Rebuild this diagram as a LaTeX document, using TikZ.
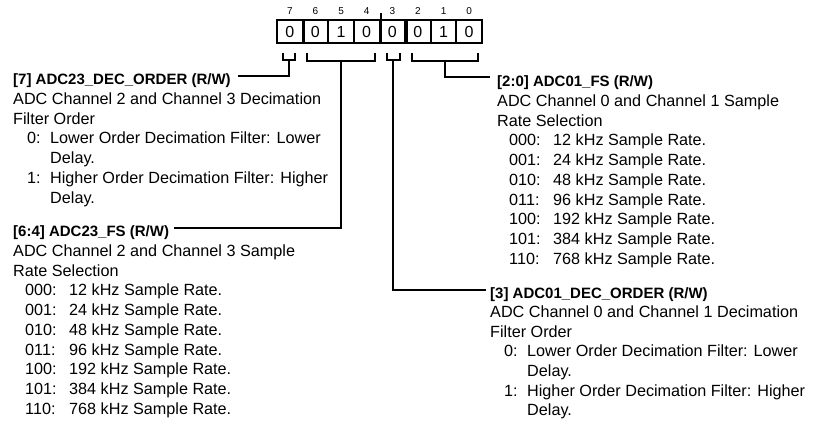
\documentclass[tikz,border=0pt]{standalone}
\usepackage{fontspec}
\setmainfont{Liberation Sans}
\newcommand{\decitem}[2]{\makebox[37pt][l]{\hspace*{14pt}#1}#2}
\newcommand{\rateitem}[2]{\makebox[56pt][l]{\hspace*{12pt}#1}#2}
\begin{document}
\begin{tikzpicture}[x=1pt,y=-1pt,
  txt/.style={inner sep=0pt, anchor=base west, font=\fontsize{16.2pt}{19.8pt}\selectfont},
  hdr/.style={inner sep=0pt, anchor=base west, font=\fontsize{15pt}{19.8pt}\selectfont\bfseries},
  bitbox/.style={draw, line width=2pt, minimum width=25.625pt, minimum height=23pt, inner sep=0pt, font=\fontsize{16pt}{18pt}\selectfont},
  bitnum/.style={inner sep=0pt, font=\fontsize{10pt}{12pt}\selectfont},
  wire/.style={line width=2pt},
  sep/.style={line width=3pt},
]
\useasboundingbox (0,0) rectangle (814,424);

% bit boxes
\foreach \b/\v in {7/0,6/0,5/1,4/0,3/0,2/0,1/1,0/0}{
  \node[bitbox] (b\b) at ({277+25.625*(7-\b)+12.8125}, 31.5) {\v};
  \node[bitnum] (n\b) at ({277+25.625*(7-\b)+12.8125}, 11.5) {\b};
}
\draw[sep] (b7.north east) -- (b7.south east);
\draw[sep] (b4.north east) -- (b4.south east);
\draw[sep] (b3.north east) -- (b3.south east);
\draw[wire] (b4.north east) -- ++(0,-6);

% brackets
\draw[wire] (282.7,52.7) -- (282.7,60) -- (295,60) -- (295,52.7);
\coordinate (k7) at (289,60);
\draw[wire] (307.3,52.7) -- (307.3,60.5) -- (375,60.5) -- (375,52.7);
\coordinate (k64) at (340.7,60.5);
\draw[wire] (386.7,52.7) -- (386.7,60) -- (400,60) -- (400,52.7);
\coordinate (k3) at (393.3,60);
\draw[wire] (411.7,52.7) -- (411.7,60.5) -- (478.3,60.5) -- (478.3,52.7);
\coordinate (k20) at (445,60.5);

% [7] block
\node[hdr] (h7) at (13, 84.5) {[7] ADC23\_DEC\_ORDER (R/W)};
\foreach \t [count=\i] in {{ADC Channel 2 and Channel 3 Decimation},{Filter Order},{\decitem{0:}{Lower Order Decimation Filter: Lower}},{\hspace*{37pt}Delay.},{\decitem{1:}{Higher Order Decimation Filter: Higher}},{\hspace*{37pt}Delay.}}
  \node[txt] (a\i) at (13, 84.5+19.75*\i) {\t};

% [6:4] block
\node[hdr] (h64) at (13, 236.5) {[6:4] ADC23\_FS (R/W)};
\foreach \t [count=\i] in {{ADC Channel 2 and Channel 3 Sample},{Rate Selection},{\rateitem{000:}{12 kHz Sample Rate.}},{\rateitem{001:}{24 kHz Sample Rate.}},{\rateitem{010:}{48 kHz Sample Rate.}},{\rateitem{011:}{96 kHz Sample Rate.}},{\rateitem{100:}{192 kHz Sample Rate.}},{\rateitem{101:}{384 kHz Sample Rate.}},{\rateitem{110:}{768 kHz Sample Rate.}}}
  \node[txt] (c\i) at (13, 236.5+19.75*\i) {\t};

% [2:0] block
\node[hdr] (h20) at (497, 86.5) {[2:0] ADC01\_FS (R/W)};
\foreach \t [count=\i] in {{ADC Channel 0 and Channel 1 Sample},{Rate Selection},{\rateitem{000:}{12 kHz Sample Rate.}},{\rateitem{001:}{24 kHz Sample Rate.}},{\rateitem{010:}{48 kHz Sample Rate.}},{\rateitem{011:}{96 kHz Sample Rate.}},{\rateitem{100:}{192 kHz Sample Rate.}},{\rateitem{101:}{384 kHz Sample Rate.}},{\rateitem{110:}{768 kHz Sample Rate.}}}
  \node[txt] (d\i) at (497, 86.5+19.75*\i) {\t};

% [3] block
\node[hdr] (h3) at (490, 298) {[3] ADC01\_DEC\_ORDER (R/W)};
\foreach \t [count=\i] in {{ADC Channel 0 and Channel 1 Decimation},{Filter Order},{\decitem{0:}{Lower Order Decimation Filter: Lower}},{\hspace*{37pt}Delay.},{\decitem{1:}{Higher Order Decimation Filter: Higher}},{\hspace*{37pt}Delay.}}
  \node[txt] (e\i) at (490, 298+19.6*\i) {\t};

% connectors
\draw[wire] (k7) |- ([xshift=7pt,yshift=9pt]h7.base east);
\draw[wire] (k64) |- ([xshift=5pt,yshift=8.5pt]h64.base east);
\draw[wire] (k3) |- ([xshift=-4pt,yshift=8pt]h3.base west);
\draw[wire] (k20) |- ([xshift=-7pt,yshift=9.5pt]h20.base west);
\end{tikzpicture}
\end{document}
